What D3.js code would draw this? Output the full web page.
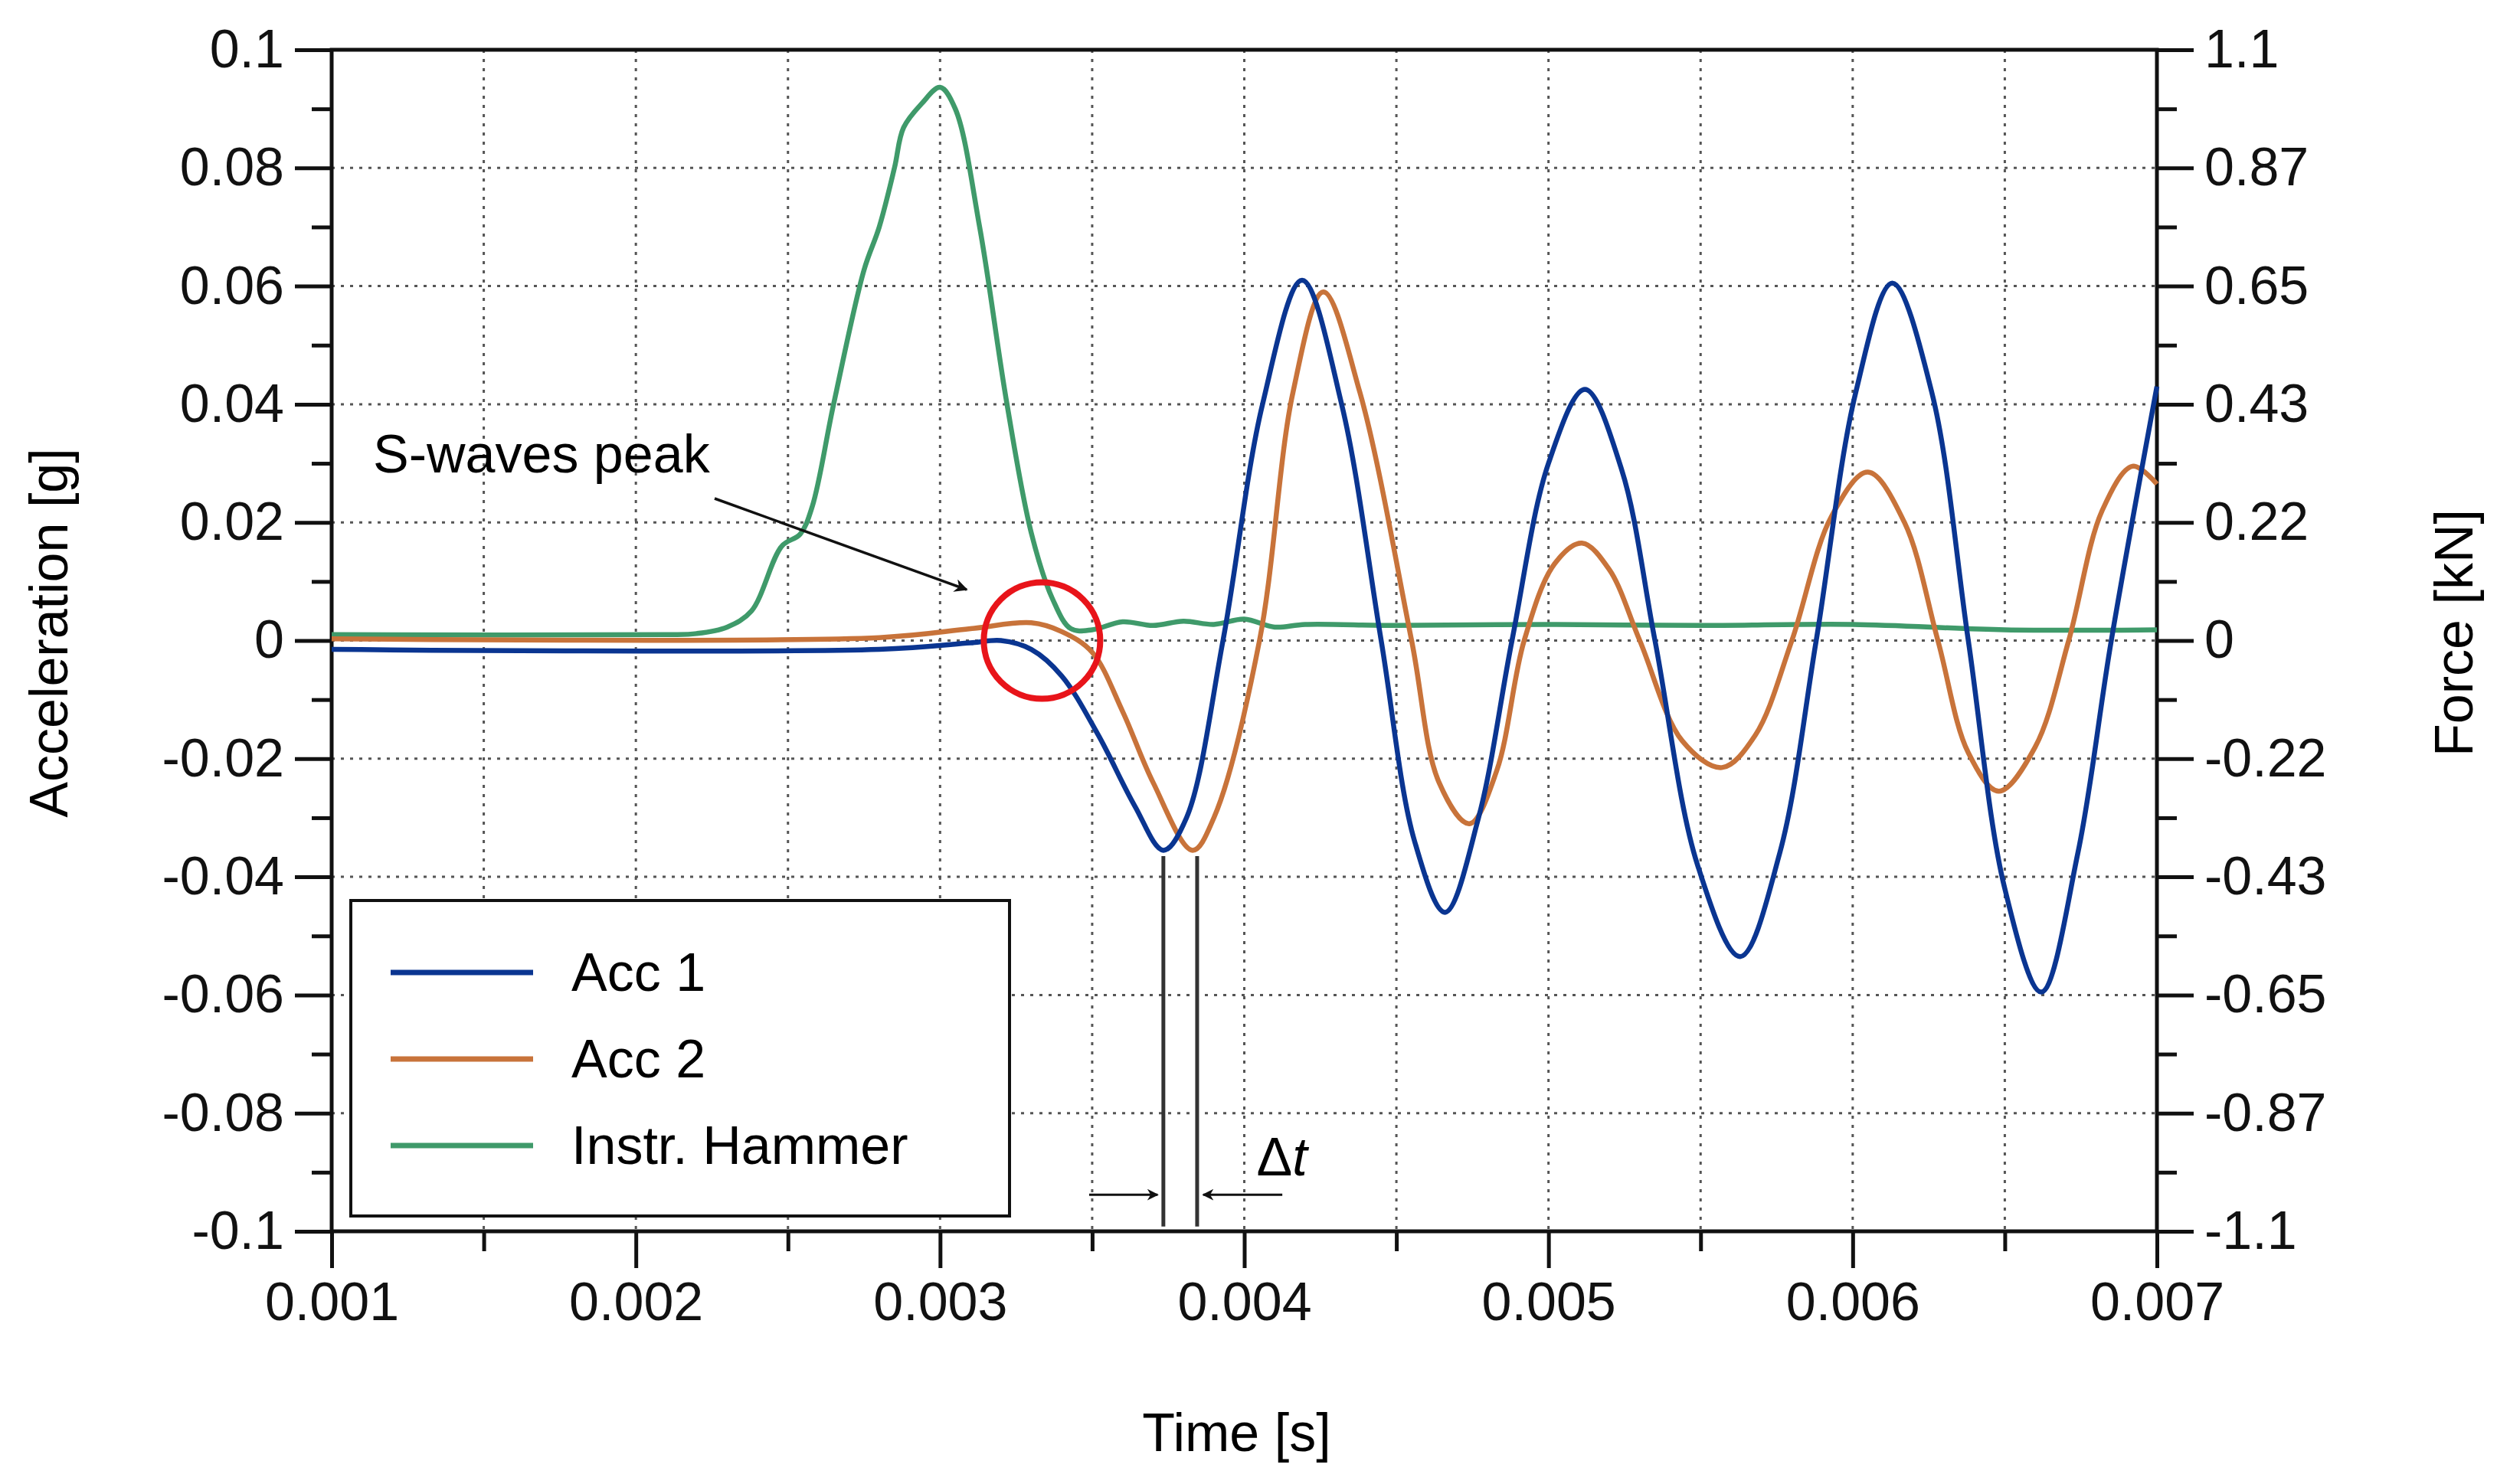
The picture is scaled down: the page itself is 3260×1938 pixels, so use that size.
<!DOCTYPE html>
<html><head><meta charset="utf-8">
<script src="https://cdn.jsdelivr.net/npm/d3@7"></script>
<style>body{margin:0;background:#fff}text{font-family:"Liberation Sans",Arial,sans-serif}</style>
</head><body><svg id="c" width="3260" height="1938"></svg>
<script>
// time [s]
var acc1T = [0.001,0.0028,0.0031,0.0032,0.0033,0.0034,0.00352,0.00364,0.003734,0.00381,0.00393,0.00406,0.00419,0.00432,0.00445,0.00456,0.00466,0.00477,0.00488,0.00500,0.00512,0.00524,0.00535,0.00549,0.00563,0.00576,0.00588,0.00601,0.00613,0.00626,0.00638,0.0065,0.00662,0.00674,0.00685,0.007];
var acc1V = [-0.0015,-0.0015,-0.0004,0.0,-0.0015,-0.006,-0.016,-0.028,-0.0355,-0.03,0.0,0.040,0.061,0.040,0.0,-0.034,-0.046,-0.030,0.0,0.030,0.0425,0.029,0.0,-0.038,-0.0535,-0.036,0.0,0.042,0.0605,0.042,0.0,-0.042,-0.0595,-0.036,0.0,0.043];
var acc2T = [0.001,0.0028,0.0031,0.0033,0.0034,0.0035,0.0036,0.0037,0.00383,0.0039,0.00405,0.00416,0.00426,0.00438,0.00455,0.00464,0.00474,0.00483,0.00492,0.00502,0.00511,0.0052,0.0053,0.00544,0.00557,0.00568,0.0058,0.00593,0.00605,0.00617,0.00628,0.00638,0.00648,0.0066,0.00671,0.00682,0.00692,0.007];
var acc2V = [0.0003,0.0005,0.002,0.003,0.0015,-0.002,-0.012,-0.024,-0.0355,-0.03,0.0,0.042,0.059,0.042,0.0,-0.024,-0.031,-0.022,0.0,0.013,0.0165,0.012,0.0,-0.017,-0.0215,-0.016,0.0,0.021,0.0285,0.020,0.0,-0.019,-0.0255,-0.018,0.0,0.022,0.0295,0.0265];
var hamT = [0.001,0.0021,0.0022,0.0023,0.00238,0.00248,0.00254,0.00258,0.00265,0.00275,0.0028,0.00285,0.00288,0.00294,0.003,0.00305,0.00313,0.00322,0.0033,0.00337,0.00343,0.0035,0.0036,0.0037,0.0038,0.0039,0.004,0.0041,0.0042,0.0045,0.005,0.0055,0.006,0.0065,0.007];
var hamV = [0.011,0.011,0.013,0.025,0.055,0.176,0.198,0.25,0.44,0.69,0.77,0.88,0.955,1.0,1.03,0.99,0.77,0.44,0.2,0.077,0.022,0.02,0.035,0.028,0.036,0.03,0.04,0.025,0.03,0.028,0.03,0.028,0.03,0.02,0.02];
var xTicks = [0.001,0.002,0.003,0.004,0.005,0.006,0.007];
var yLeftTicks = [0.1,0.08,0.06,0.04,0.02,0,-0.02,-0.04,-0.06,-0.08,-0.1];
var yRightTicks = ["1.1","0.87","0.65","0.43","0.22","0","-0.22","-0.43","-0.65","-0.87","-1.1"];
var seriesNames = ["Acc 1","Acc 2","Instr. Hammer"];
var colors = ["#0a3591","#c8733a","#3f9a6a"];

var svg = d3.select("#c");
var L=433,R=2816,T=65,B=1608;
var x = d3.scaleLinear().domain([0.001,0.007]).range([L,R]);
var y = d3.scaleLinear().domain([-0.1,0.1]).range([B,T]);
var yF = d3.scaleLinear().domain([-1.1,1.1]).range([B,T]);
var fs = 70;

// grid
var g = svg.append("g").attr("stroke","#555").attr("stroke-width",3).attr("stroke-dasharray","4,8");
d3.range(0.0015,0.007,0.0005).forEach(function(t){g.append("line").attr("x1",x(t)).attr("x2",x(t)).attr("y1",T).attr("y2",B);});
d3.range(-0.08,0.09,0.02).forEach(function(v){g.append("line").attr("x1",L).attr("x2",R).attr("y1",y(v)).attr("y2",y(v));});

// axes
var fmt = function(d){return String(+d.toFixed(2));};
svg.append("g").attr("transform","translate("+L+",0)").call(d3.axisLeft(y).tickValues(yLeftTicks).tickSize(48).tickPadding(14).tickFormat(fmt));
svg.append("g").attr("transform","translate("+R+",0)").call(d3.axisRight(y).tickValues(yLeftTicks).tickSize(48).tickPadding(14).tickFormat(function(d,i){return yRightTicks[i];}));
svg.append("g").attr("transform","translate(0,"+B+")").call(d3.axisBottom(x).tickValues(xTicks).tickSize(48).tickPadding(18).tickFormat(d3.format(".3f")));
svg.append("g").attr("transform","translate("+L+",0)").call(d3.axisLeft(y).tickValues(d3.range(-0.09,0.1,0.02)).tickSize(26).tickFormat(""));
svg.append("g").attr("transform","translate("+R+",0)").call(d3.axisRight(y).tickValues(d3.range(-0.09,0.1,0.02)).tickSize(26).tickFormat(""));
svg.append("g").attr("transform","translate(0,"+B+")").call(d3.axisBottom(x).tickValues(d3.range(0.0015,0.007,0.001)).tickSize(26).tickFormat(""));
svg.selectAll(".domain").remove();
svg.selectAll(".tick line").attr("stroke","#111").attr("stroke-width",5);
svg.selectAll(".tick text").attr("font-size",fs).attr("fill","#111").style("font-family","Liberation Sans, Arial, sans-serif");
svg.append("rect").attr("x",L).attr("y",T).attr("width",R-L).attr("height",B-T).attr("fill","none").attr("stroke","#111").attr("stroke-width",5);

// lines
var line = d3.line().curve(d3.curveCatmullRom.alpha(0.5));
function draw(ts,vs,sc,c){
  svg.append("path").attr("d",line(ts.map(function(t,i){return [x(t),sc(vs[i])];})))
    .attr("fill","none").attr("stroke",c).attr("stroke-width",6.5);
}
draw(hamT,hamV,yF,colors[2]);
draw(acc2T,acc2V,y,colors[1]);
draw(acc1T,acc1V,y,colors[0]);

// axis titles
svg.append("text").attr("transform","translate(88,"+(y(0)-10)+") rotate(-90)").attr("text-anchor","middle").attr("font-size",fs).text("Acceleration [g]");
svg.append("text").attr("transform","translate(3228,"+(y(0)-10)+") rotate(-90)").attr("text-anchor","middle").attr("font-size",fs).text("Force [kN]");
svg.append("text").attr("x",(L+R)/2 - 10).attr("y",1895).attr("text-anchor","middle").attr("font-size",fs).text("Time [s]");

// annotations
var defs = svg.append("defs");
defs.append("marker").attr("id","ah").attr("viewBox","0 0 10 10").attr("refX",9).attr("refY",5).attr("markerWidth",5).attr("markerHeight",5).attr("orient","auto")
  .append("path").attr("d","M0,0 L10,5 L0,10 L3,5 Z").attr("fill","#111");
svg.append("text").attr("x",487).attr("y",617).attr("font-size",fs).text("S-waves peak");
svg.append("line").attr("x1",933).attr("y1",651).attr("x2",1262).attr("y2",770).attr("stroke","#111").attr("stroke-width",3.5).attr("marker-end","url(#ah)");
svg.append("circle").attr("cx",x(0.003335)).attr("cy",y(0)).attr("r",76).attr("fill","none").attr("stroke","#e8141a").attr("stroke-width",8);
[0.003734,0.003845].forEach(function(t){
  svg.append("line").attr("x1",x(t)).attr("x2",x(t)).attr("y1",y(-0.0365)).attr("y2",y(-0.0992)).attr("stroke","#333").attr("stroke-width",5);
});
svg.append("line").attr("x1",x(0.00349)).attr("x2",x(0.003715)).attr("y1",y(-0.0938)).attr("y2",y(-0.0938)).attr("stroke","#111").attr("stroke-width",3).attr("marker-end","url(#ah)");
svg.append("line").attr("x1",x(0.004125)).attr("x2",x(0.003865)).attr("y1",y(-0.0938)).attr("y2",y(-0.0938)).attr("stroke","#111").attr("stroke-width",3).attr("marker-end","url(#ah)");
var dt = svg.append("text").attr("x",x(0.00404)).attr("y",y(-0.0905)).attr("font-size",fs);
dt.append("tspan").text("Δ"); dt.append("tspan").attr("font-style","italic").text("t");

// legend
svg.append("rect").attr("x",458).attr("y",1176).attr("width",860).attr("height",412).attr("fill","#fff").attr("stroke","#111").attr("stroke-width",4);
seriesNames.forEach(function(n,i){
  var yy = 1270 + i*113;
  svg.append("line").attr("x1",510).attr("x2",696).attr("y1",yy).attr("y2",yy).attr("stroke",colors[i]).attr("stroke-width",7);
  svg.append("text").attr("x",746).attr("y",yy+24).attr("font-size",fs).text(n);
});
</script></body></html>
